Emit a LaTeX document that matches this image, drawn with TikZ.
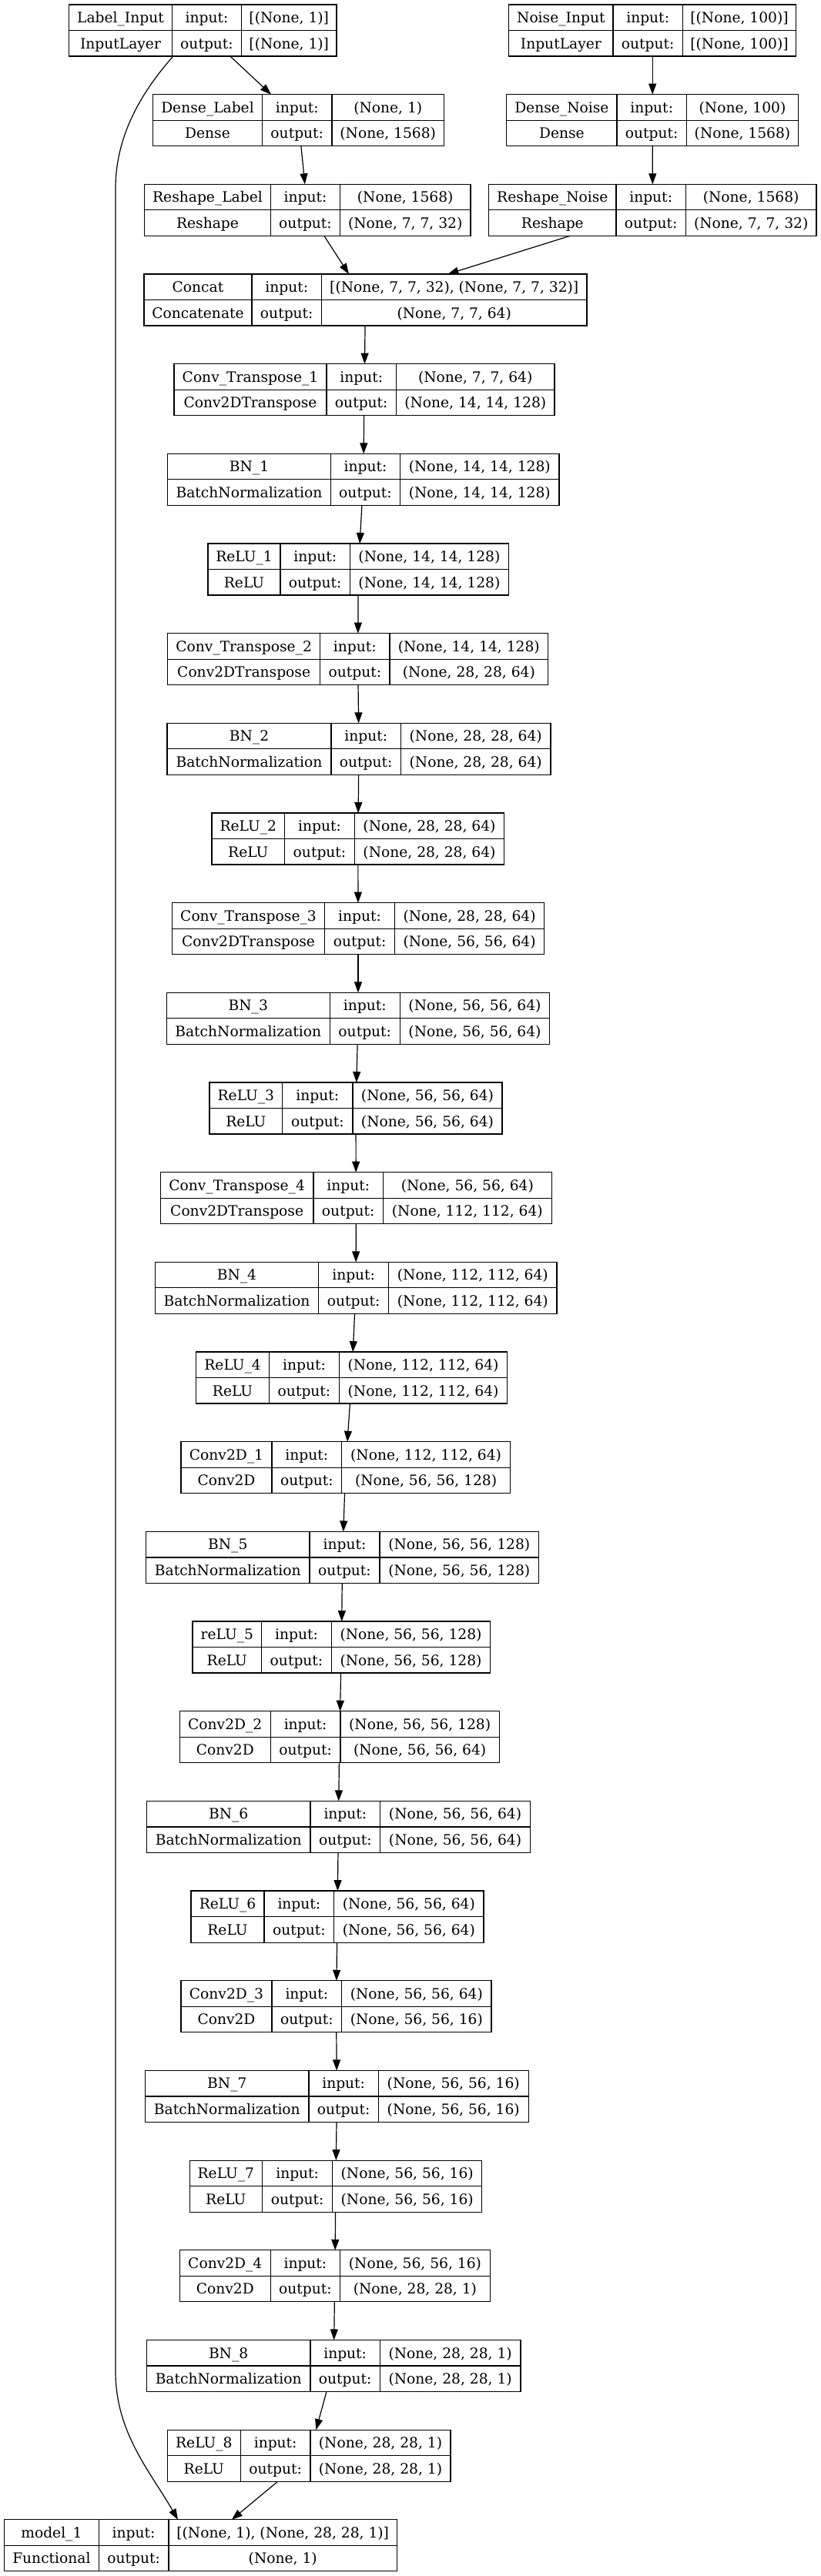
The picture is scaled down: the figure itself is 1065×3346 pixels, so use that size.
\documentclass[tikz,border=0pt]{standalone}
\usepackage{fontspec}
\setmainfont{DejaVu Serif}
\usetikzlibrary{arrows.meta}
\tikzset{
  box/.style={draw=black, line width=0.9pt, inner sep=0pt, outer sep=0pt, rectangle},
  gridline/.style={draw=black, line width=0.9pt},
  txt/.style={inner sep=0pt, anchor=center, text height=10.2pt, text depth=0pt, font=\fontsize{14pt}{17pt}\selectfont},
  arr/.style={line width=0.9pt, -{Triangle[length=10.5pt,width=7.5pt]}},
}
\newcommand\layer[9]{%
  \pgfmathsetmacro\Lyt{6+(#2-1)*116.67}%
  \pgfmathsetmacro\Lyb{\Lyt+67}%
  \pgfmathsetmacro\Lym{\Lyt+33.5}%
  \pgfmathsetmacro\Lya{\Lyt+16.75}%
  \pgfmathsetmacro\Lyc{\Lyt+50.25}%
  \pgfmathsetmacro\Lw{(#6-#3)*0.75}%
  \pgfmathsetmacro\Lh{67*0.75}%
  \pgfmathsetmacro\Lxc{(#3+#6)/2}%
  \pgfmathsetmacro\Lxa{(#3+#4)/2}%
  \pgfmathsetmacro\Lxb{(#4+#5)/2}%
  \pgfmathsetmacro\Lxd{(#5+#6)/2}%
  \node[box, minimum width=\Lw pt, minimum height=\Lh pt] (#1) at (\Lxc,\Lym) {};
  \draw[gridline] (#4,\Lyt) -- (#4,\Lyb) (#5,\Lyt) -- (#5,\Lyb) (#3,\Lym) -- (#6,\Lym);
  \node[txt] (#1-name) at (\Lxa,\Lya) {#7};
  \node[txt] (#1-type) at (\Lxa,\Lyc) {#8};
  \node[txt] (#1-inl) at (\Lxb,\Lya) {input:};
  \node[txt] (#1-outl) at (\Lxb,\Lyc) {output:};
  \def\Lid{#1}\def\Lin{#9}%
  \layerfinish}
\newcommand\layerfinish[1]{%
  \node[txt] (\Lid-in) at (\Lxd,\Lya) {\Lin};
  \node[txt] (\Lid-out) at (\Lxd,\Lyc) {#1};
}
\begin{document}
\begin{tikzpicture}[x=0.75pt, y=-0.75pt]
\fill[white] (0,0) rectangle (1065,3346);
\useasboundingbox (0,0) rectangle (1065,3346);

\layer{li}{1}{89.5}{223.5}{313.5}{437}{Label\_Input}{InputLayer}{[(None, 1)]}{[(None, 1)]}
\layer{ni}{1}{660.7}{796}{886.3}{1033.7}{Noise\_Input}{InputLayer}{[(None, 100)]}{[(None, 100)]}
\layer{dl}{2}{198.5}{340.5}{431}{576.5}{Dense\_Label}{Dense}{(None, 1)}{(None, 1568)}
\layer{dn}{2}{657.7}{801}{891.3}{1036.7}{Dense\_Noise}{Dense}{(None, 100)}{(None, 1568)}
\layer{rl}{3}{187.5}{351.5}{441.5}{611}{Reshape\_Label}{Reshape}{(None, 1568)}{(None, 7, 7, 32)}
\layer{rn}{3}{634.7}{800}{890.3}{1060}{Reshape\_Noise}{Reshape}{(None, 1568)}{(None, 7, 7, 32)}
\layer{cc}{4}{187}{327}{417.5}{762}{Concat}{Concatenate}{[(None, 7, 7, 32), (None, 7, 7, 32)]}{(None, 7, 7, 64)}
\layer{ct1}{5}{226}{424}{514.5}{720}{Conv\_Transpose\_1}{Conv2DTranspose}{(None, 7, 7, 64)}{(None, 14, 14, 128)}
\layer{bn1}{6}{217.7}{429.3}{519.7}{725.9}{BN\_1}{BatchNormalization}{(None, 14, 14, 128)}{(None, 14, 14, 128)}
\layer{re1}{7}{270}{364}{454.4}{660.5}{ReLU\_1}{ReLU}{(None, 14, 14, 128)}{(None, 14, 14, 128)}
\layer{ct2}{8}{217.7}{415.6}{506}{711.6}{Conv\_Transpose\_2}{Conv2DTranspose}{(None, 14, 14, 128)}{(None, 28, 28, 64)}
\layer{bn2}{9}{217}{430}{520.4}{715}{BN\_2}{BatchNormalization}{(None, 28, 28, 64)}{(None, 28, 28, 64)}
\layer{re2}{10}{275}{369.6}{460.4}{654.6}{ReLU\_2}{ReLU}{(None, 28, 28, 64)}{(None, 28, 28, 64)}
\layer{ct3}{11}{223.3}{421.7}{512.5}{706.7}{Conv\_Transpose\_3}{Conv2DTranspose}{(None, 28, 28, 64)}{(None, 56, 56, 64)}
\layer{bn3}{12}{216.2}{428.3}{519.2}{713.8}{BN\_3}{BatchNormalization}{(None, 56, 56, 64)}{(None, 56, 56, 64)}
\layer{re3}{13}{272}{366.7}{458}{652}{ReLU\_3}{ReLU}{(None, 56, 56, 64)}{(None, 56, 56, 64)}
\layer{ct4}{14}{208.3}{407}{497.5}{716.2}{Conv\_Transpose\_4}{Conv2DTranspose}{(None, 56, 56, 64)}{(None, 112, 112, 64)}
\layer{bn4}{15}{201.2}{413.7}{504.6}{723}{BN\_4}{BatchNormalization}{(None, 112, 112, 64)}{(None, 112, 112, 64)}
\layer{re4}{16}{254.6}{349.6}{440.4}{658.7}{ReLU\_4}{ReLU}{(None, 112, 112, 64)}{(None, 112, 112, 64)}
\layer{cv1}{17}{235}{353}{443.7}{662.5}{Conv2D\_1}{Conv2D}{(None, 112, 112, 64)}{(None, 56, 56, 128)}
\layer{bn5}{18}{189.6}{402}{493}{699.6}{BN\_5}{BatchNormalization}{(None, 56, 56, 128)}{(None, 56, 56, 128)}
\layer{re5}{19}{250}{339.6}{430.4}{636.7}{reLU\_5}{ReLU}{(None, 56, 56, 128)}{(None, 56, 56, 128)}
\layer{cv2}{20}{233.3}{351.25}{442}{648.3}{Conv2D\_2}{Conv2D}{(None, 56, 56, 128)}{(None, 56, 56, 64)}
\layer{bn6}{21}{190.4}{403}{493.75}{688.3}{BN\_6}{BatchNormalization}{(None, 56, 56, 64)}{(None, 56, 56, 64)}
\layer{re6}{22}{248}{343}{433.75}{628}{ReLU\_6}{ReLU}{(None, 56, 56, 64)}{(None, 56, 56, 64)}
\layer{cv3}{23}{235}{353}{443.75}{638}{Conv2D\_3}{Conv2D}{(None, 56, 56, 64)}{(None, 56, 56, 16)}
\layer{bn7}{24}{188.7}{401}{491.3}{686.2}{BN\_7}{BatchNormalization}{(None, 56, 56, 16)}{(None, 56, 56, 16)}
\layer{re7}{25}{246.2}{340.5}{431.8}{625.6}{ReLU\_7}{ReLU}{(None, 56, 56, 16)}{(None, 56, 56, 16)}
\layer{cv4}{26}{233.3}{351.3}{441.5}{636.4}{Conv2D\_4}{Conv2D}{(None, 56, 56, 16)}{(None, 28, 28, 1)}
\layer{bn8}{27}{190.3}{403}{493.3}{676}{BN\_8}{BatchNormalization}{(None, 28, 28, 1)}{(None, 28, 28, 1)}
\layer{re8}{28}{217.4}{312.3}{403}{585}{ReLU\_8}{ReLU}{(None, 28, 28, 1)}{(None, 28, 28, 1)}
\layer{mdl}{29}{5.6}{128.2}{219}{515.4}{model\_1}{Functional}{[(None, 1), (None, 28, 28, 1)]}{(None, 1)}

\draw[arr] (li) -- (dl);
\draw[arr] (ni) -- (dn);
\draw[arr] (dl) -- (rl);
\draw[arr] (dn) -- (rn);
\draw[arr] (rl) -- (cc);
\draw[arr] (rn) -- (cc);
\foreach \a/\b in {cc/ct1, ct1/bn1, bn1/re1, re1/ct2, ct2/bn2, bn2/re2, re2/ct3, ct3/bn3, bn3/re3, re3/ct4, ct4/bn4, bn4/re4, re4/cv1, cv1/bn5, bn5/re5, re5/cv2, cv2/bn6, bn6/re6, re6/cv3, cv3/bn7, bn7/re7, re7/cv4, cv4/bn8, bn8/re8, re8/mdl}
  \draw[arr] (\a) -- (\b);
\draw[arr] ([xshift=101.6pt]li.south west) .. controls (185,118) and (150,175) .. (150,245)
  -- (150,3080) .. controls (150,3160) and (195,3210) .. ([xshift=169pt]mdl.north west);
\end{tikzpicture}
\end{document}
